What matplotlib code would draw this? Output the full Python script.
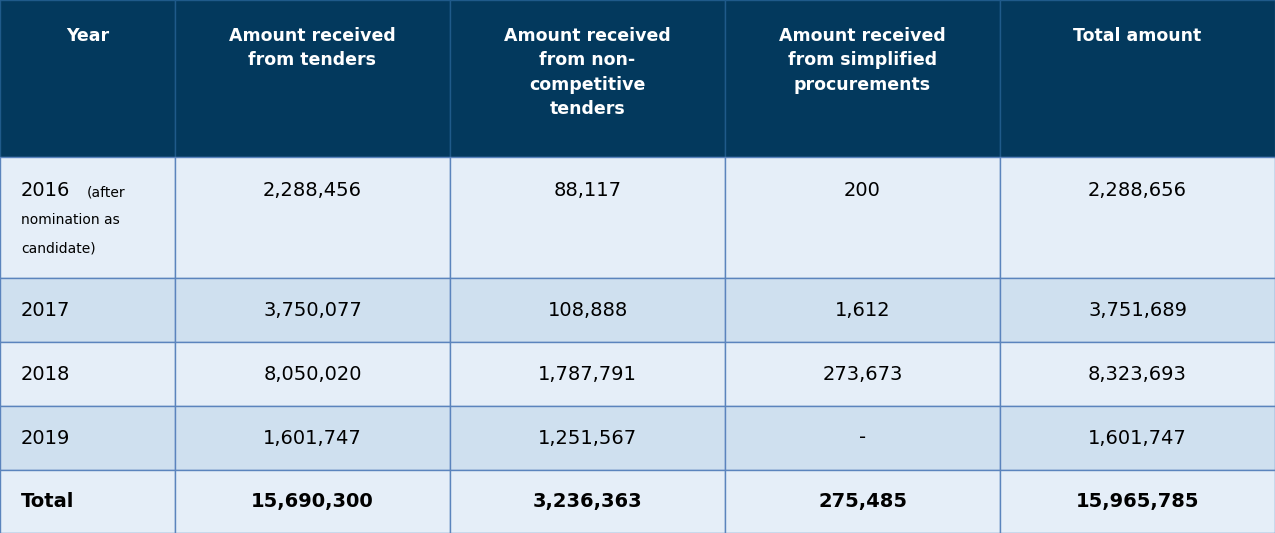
import matplotlib.pyplot as plt
from matplotlib.patches import Rectangle

headers = ["Year", "Amount received\nfrom tenders", "Amount received\nfrom non-\ncompetitive\ntenders",
           "Amount received\nfrom simplified\nprocurements", "Total amount"]
years = ["2016", "2017", "2018", "2019", "Total"]
tenders = ["2,288,456", "3,750,077", "8,050,020", "1,601,747", "15,690,300"]
non_competitive = ["88,117", "108,888", "1,787,791", "1,251,567", "3,236,363"]
simplified = ["200", "1,612", "273,673", "-", "275,485"]
totals = ["2,288,656", "3,751,689", "8,323,693", "1,601,747", "15,965,785"]

col_edges = [0, 175, 450, 725, 1000, 1275]
row_edges = [0, 157, 278, 342, 406, 470, 533]
header_bg = "#03395d"
light = "#e5eef8"
dark = "#cfe0ef"
line_col = "#5b84bd"

fig = plt.figure(figsize=(12.75, 5.33), dpi=100)
ax = fig.add_axes([0, 0, 1, 1])
ax.set_xlim(0, 1275)
ax.set_ylim(533, 0)
ax.axis('off')

# header
for c in range(5):
    x0, x1 = col_edges[c], col_edges[c + 1]
    ax.add_patch(Rectangle((x0, 0), x1 - x0, row_edges[1], facecolor=header_bg,
                           edgecolor="#1f5a8a", lw=1))
    ax.text((x0 + x1) / 2, 27, headers[c], color="white", fontsize=12.5, fontweight="bold",
            ha="center", va="top", linespacing=1.45)

columns = [years, tenders, non_competitive, simplified, totals]
for r in range(5):
    y0, y1 = row_edges[r + 1], row_edges[r + 2]
    bg = light if r % 2 == 0 else dark
    bold = "bold" if r == 4 else "normal"
    for c in range(5):
        x0, x1 = col_edges[c], col_edges[c + 1]
        ax.add_patch(Rectangle((x0, y0), x1 - x0, y1 - y0, facecolor=bg,
                               edgecolor=line_col, lw=1))
        if r == 0:
            ty, va = 190, "center"
        else:
            ty, va = (y0 + y1) / 2, "center"
        if c == 0:
            ax.text(21, ty, columns[c][r], fontsize=14, fontweight=bold, ha="left", va=va)
        else:
            ax.text((x0 + x1) / 2, ty, columns[c][r], fontsize=14, fontweight=bold,
                    ha="center", va=va)

ax.text(87, 192, "(after", fontsize=10, ha="left", va="center")
ax.text(21, 220, "nomination as", fontsize=10, ha="left", va="center")
ax.text(21, 249, "candidate)", fontsize=10, ha="left", va="center")

fig.savefig("out.png", dpi=100)
